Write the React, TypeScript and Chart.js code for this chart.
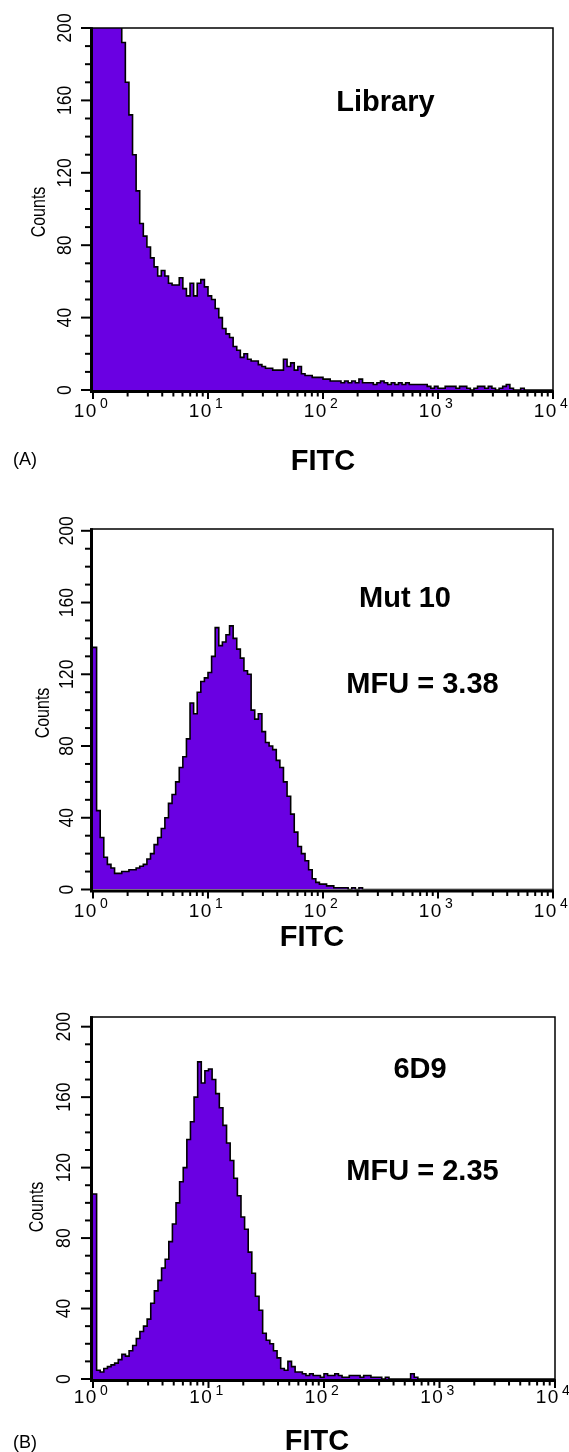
import React, { useEffect, useRef } from "react";
import { Chart, registerables } from "chart.js";

Chart.register(...registerables);

// ---- data (counts per channel; 32 channels per decade, 4 decades) ----
const CHANNELS_PER_DECADE = 32;
const TOTAL_CHANNELS = 128;
const decadeExponents = ["0", "1", "2", "3", "4"];
const yMajorTicks = [0, 40, 80, 120, 160, 200];
const yMinorTicks = [10, 20, 30, 50, 60, 70, 90, 100, 110, 130, 140, 150, 170, 180, 190];
const minorMultipliers = [2, 3, 4, 5, 6, 7, 8, 9];

const libraryCounts = [
  250, 280, 300, 290, 270, 250, 230, 205, 192, 170, 152, 130, 110, 92, 85, 79,
  73, 68, 63, 66, 63, 59, 58, 58, 62, 56, 52, 59, 52, 59, 61, 57,
  52, 50, 45, 40, 34, 31, 29, 24, 22, 18, 20, 17, 16, 16, 14, 13,
  12, 12, 11, 11, 11, 17, 13, 15, 11, 13, 9, 8, 8, 7, 7, 7,
  6, 6, 5, 5, 5, 4, 5, 4, 5, 4, 6, 4, 4, 4, 3, 4,
  5, 4, 3, 4, 3, 4, 3, 4, 3, 3, 3, 3, 3, 2, 1, 2,
  1, 1, 2, 2, 2, 1, 2, 2, 1, 0, 1, 2, 2, 1, 2, 1,
  0, 1, 2, 3, 1, 0, 0, 1, 0, 0, 0, 0, 0, 0, 0, 0,
];

const mut10Counts = [
  135, 44, 29, 18, 14, 12, 9, 9, 10, 10, 11, 11, 12, 13, 14, 17,
  20, 25, 29, 34, 40, 48, 53, 60, 68, 74, 84, 104, 98, 110, 116, 118,
  121, 130, 146, 136, 138, 142, 147, 140, 134, 129, 122, 120, 100, 95, 98, 88,
  82, 80, 78, 72, 68, 60, 52, 42, 32, 24, 20, 16, 11, 6, 4, 3,
  3, 2, 2, 1, 1, 1, 1, 0, 1, 0, 1, 0, 0, 0, 0, 0,
  0, 0, 0, 0, 0, 0, 0, 0, 0, 0, 0, 0, 0, 0, 0, 0,
  0, 0, 0, 0, 0, 0, 0, 0, 0, 0, 0, 0, 0, 0, 0, 0,
  0, 0, 0, 0, 0, 0, 0, 0, 0, 0, 0, 0, 0, 0, 0, 0,
];

const sixD9Counts = [
  105, 5, 4, 6, 7, 8, 9, 11, 14, 13, 16, 19, 23, 27, 30, 34,
  43, 50, 56, 63, 68, 78, 88, 100, 112, 120, 136, 146, 160, 180, 168, 175,
  176, 170, 162, 154, 144, 134, 124, 114, 104, 92, 85, 72, 60, 47, 39, 26,
  22, 20, 16, 12, 6, 5, 10, 7, 4, 4, 3, 2, 3, 2, 2, 1,
  3, 2, 2, 3, 2, 1, 1, 2, 2, 2, 1, 2, 2, 1, 1, 1,
  0, 1, 0, 0, 0, 0, 0, 0, 3, 1, 0, 0, 0, 0, 0, 0,
  0, 0, 0, 0, 0, 0, 0, 0, 0, 0, 0, 0, 0, 0, 0, 0,
  0, 0, 0, 0, 0, 0, 0, 0, 0, 0, 0, 0, 0, 0, 0, 0,
];

const sampleNames = ["Library", "Mut 10", "6D9"];
const mfuTexts = ["", "MFU = 3.38", "MFU = 2.35"];
const panelTags = ["(A)", "", "(B)"];
const axisTitleX = "FITC";
const axisTitleY = "Counts";

// ---- styling / layout ----
const FILL = "#6a00e2";
const SANS = '"Liberation Sans", Arial, Helvetica, sans-serif';
const BOLD = `bold 29px ${SANS}`;

const PANELS = [
  {
    counts: libraryCounts, top: 0, height: 476, yMax: 200,
    pad: { left: 93, right: 16, top: 28, bottom: 86 },
    name: { x: 385.5, y: 111 }, mfu: null,
    fitc: { x: 323, y: 470 }, tag: { x: 13, y: 465 },
    countsPos: { x: 39, y: 212 }, yLabelX: 64.5, xBase: 417, xSup: 408,
  },
  {
    counts: mut10Counts, top: 476, height: 474, yMax: 201,
    pad: { left: 93, right: 16, top: 53, bottom: 60.5 },
    name: { x: 405, y: 131 }, mfu: { x: 422.5, y: 217 },
    fitc: { x: 312, y: 470 }, tag: null,
    countsPos: { x: 43, y: 237 }, yLabelX: 66, xBase: 441, xSup: 432,
  },
  {
    counts: sixD9Counts, top: 950, height: 502, yMax: 205.5,
    pad: { left: 93, right: 14, top: 67, bottom: 73 },
    name: { x: 420, y: 128 }, mfu: { x: 422.5, y: 230 },
    fitc: { x: 317, y: 500 }, tag: { x: 13, y: 498 },
    countsPos: { x: 37, y: 257 }, yLabelX: 63, xBase: 453, xSup: 445,
  },
];

const decorPlugin = {
  id: "facsDecor",
  afterDraw(chart: any, _args: any, o: any) {
    const { ctx, chartArea: a } = chart;
    const xs = chart.scales.x;
    const ys = chart.scales.y;
    ctx.save();
    ctx.strokeStyle = "#000";
    ctx.fillStyle = "#000";

    // frame: top + right (thin)
    ctx.lineWidth = 1.5;
    ctx.beginPath();
    ctx.moveTo(a.left - 3, a.top);
    ctx.lineTo(a.right, a.top);
    ctx.lineTo(a.right, a.bottom + 3);
    ctx.stroke();

    // axes: left + bottom (thick)
    ctx.lineWidth = 3;
    ctx.beginPath();
    ctx.moveTo(a.left - 1.5, a.top - 0.75);
    ctx.lineTo(a.left - 1.5, a.bottom + 1.5);
    ctx.lineTo(a.right + 0.75, a.bottom + 1.5);
    ctx.stroke();

    // y ticks
    ctx.lineWidth = 2;
    const yTick = (v: number, len: number) => {
      const py = ys.getPixelForValue(v);
      ctx.beginPath();
      ctx.moveTo(a.left - 2 - len, py);
      ctx.lineTo(a.left - 1.5, py);
      ctx.stroke();
    };
    yMajorTicks.forEach((v) => yTick(v, 10));
    yMinorTicks.forEach((v) => yTick(v, 6));

    // x ticks
    const xTick = (ch: number, len: number) => {
      const px = xs.getPixelForValue(ch);
      ctx.beginPath();
      ctx.moveTo(px, a.bottom + 1.5);
      ctx.lineTo(px, a.bottom + 3 + len);
      ctx.stroke();
    };
    decadeExponents.forEach((_e, d) => {
      xTick(d * CHANNELS_PER_DECADE, 6);
      if (d < decadeExponents.length - 1) {
        minorMultipliers.forEach((m) => xTick((d + Math.log10(m)) * CHANNELS_PER_DECADE, 3.5));
      }
    });

    // y tick labels (rotated, narrow)
    ctx.textAlign = "center";
    ctx.textBaseline = "middle";
    ctx.font = `21px ${SANS}`;
    yMajorTicks.forEach((v) => {
      const py = ys.getPixelForValue(v);
      ctx.save();
      ctx.translate(o.yLabelX, py);
      ctx.rotate(-Math.PI / 2);
      ctx.scale(0.84, 1);
      ctx.fillText(String(v), 0, 1);
      ctx.restore();
    });

    // x tick labels 10^n
    ctx.textBaseline = "alphabetic";
    decadeExponents.forEach((e, d) => {
      const px = xs.getPixelForValue(d * CHANNELS_PER_DECADE);
      ctx.font = `19px ${SANS}`;
      ctx.fillText("1", px - 14, o.xBase);
      ctx.fillText("0", px - 2, o.xBase);
      ctx.font = `14px ${SANS}`;
      ctx.fillText(e, px + 11, o.xSup);
    });

    // Counts
    ctx.save();
    ctx.translate(o.countsPos.x, o.countsPos.y);
    ctx.rotate(-Math.PI / 2);
    ctx.scale(0.8, 1);
    ctx.font = `20px ${SANS}`;
    ctx.textBaseline = "middle";
    ctx.fillText(axisTitleY, 0, 0);
    ctx.restore();

    // annotations
    ctx.textBaseline = "alphabetic";
    ctx.font = BOLD;
    ctx.fillText(o.nameText, o.name.x, o.name.y);
    if (o.mfu) ctx.fillText(o.mfuText, o.mfu.x, o.mfu.y);
    ctx.fillText(axisTitleX, o.fitc.x, o.fitc.y);
    if (o.tag) {
      ctx.textAlign = "left";
      ctx.font = `18px ${SANS}`;
      ctx.fillText(o.tagText, o.tag.x, o.tag.y);
    }
    ctx.restore();
  },
};

function Panel({ index }: { index: number }) {
  const ref = useRef<HTMLCanvasElement>(null);
  const cfg = PANELS[index];
  useEffect(() => {
    const counts = cfg.counts;
    const points = counts.map((v, i) => ({ x: i, y: v }));
    points.push({ x: TOTAL_CHANNELS, y: counts[counts.length - 1] });
    const chart = new Chart(ref.current as HTMLCanvasElement, {
      type: "line",
      data: {
        datasets: [
          {
            data: points,
            stepped: true,
            fill: "origin",
            backgroundColor: FILL,
            borderColor: "#000",
            borderWidth: 1.6,
            borderJoinStyle: "miter",
            pointRadius: 0,
            tension: 0,
            clip: 0,
          } as any,
        ],
      },
      options: {
        responsive: false,
        animation: false,
        devicePixelRatio: 1,
        events: [],
        layout: { padding: cfg.pad },
        plugins: {
          legend: { display: false },
          tooltip: { enabled: false },
          facsDecor: {
            ...cfg,
            nameText: sampleNames[index],
            mfuText: mfuTexts[index],
            tagText: panelTags[index],
          },
        } as any,
        scales: {
          x: { type: "linear", min: 0, max: TOTAL_CHANNELS, display: false },
          y: { type: "linear", min: 0, max: cfg.yMax, display: false },
        },
      },
      plugins: [decorPlugin],
    });
    return () => chart.destroy();
  }, []);
  return (
    <canvas
      ref={ref}
      width={569}
      height={cfg.height}
      style={{ position: "absolute", left: 0, top: cfg.top, width: 569, height: cfg.height }}
    />
  );
}

export default function App() {
  return (
    <div style={{ position: "absolute", left: 0, top: 0, width: 569, height: 1452, background: "#fff" }}>
      {PANELS.map((_p, i) => (
        <Panel key={i} index={i} />
      ))}
    </div>
  );
}
